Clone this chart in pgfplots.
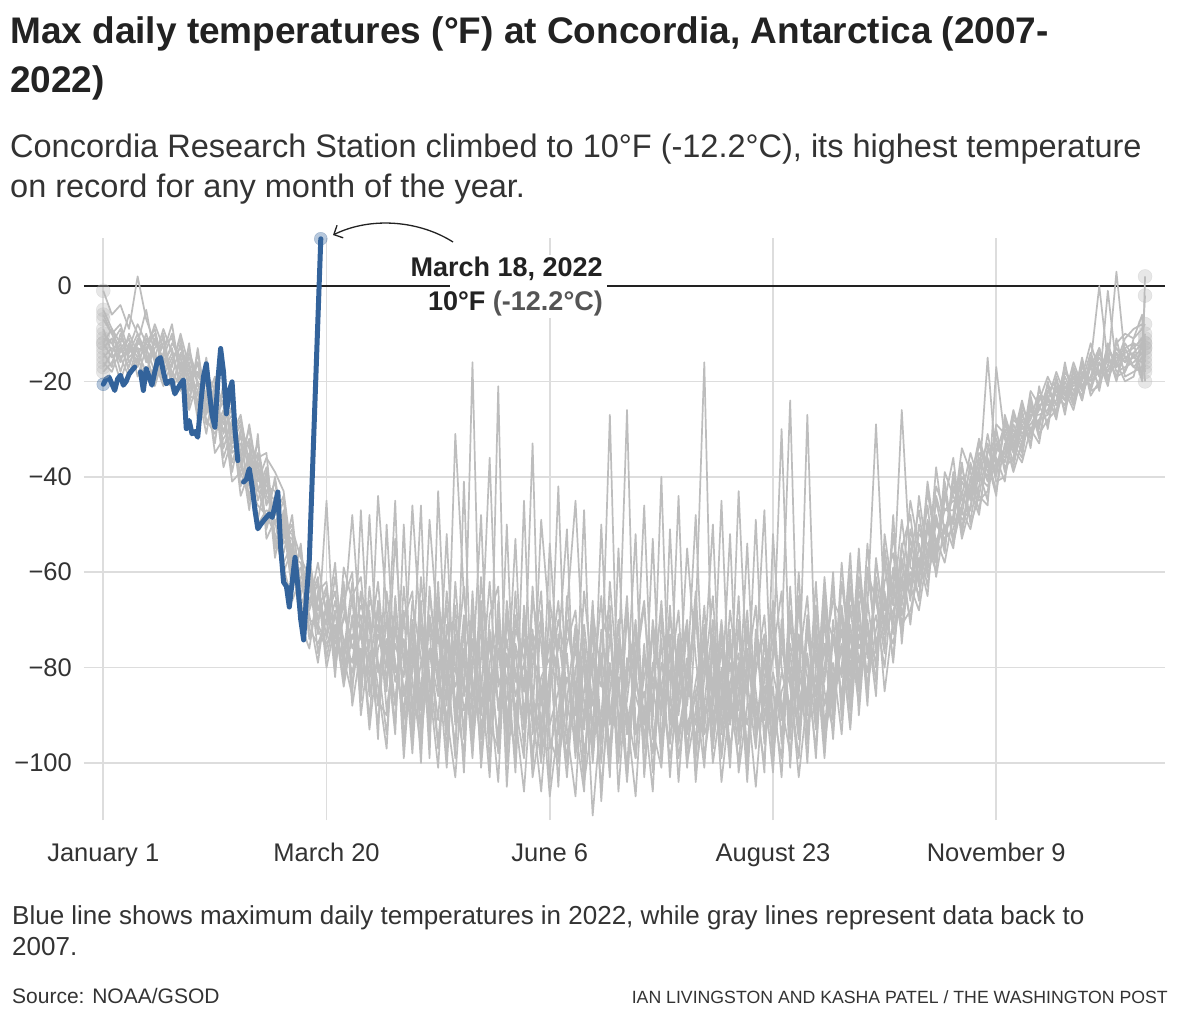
\documentclass[border=0pt]{standalone}
\usepackage{pgfplots}
\pgfplotsset{compat=1.18}
\usepackage{pgfplotstable}
\usepackage{fontspec}
\setmainfont{Liberation Sans}
\usetikzlibrary{arrows.meta}
\definecolor{gline}{HTML}{BDBDBD}
\definecolor{gdot}{HTML}{BBBBBB}
\definecolor{gridc}{HTML}{DDDDDD}
\definecolor{wpblue}{HTML}{33639B}
\definecolor{txt}{HTML}{222222}
\definecolor{txt2}{HTML}{333333}
\definecolor{anngray}{HTML}{555555}

\pgfplotstableread{
d y1 y2 y3 y4 y5 y6 y7 y8 y9 y10 y11 y12 y13 y14 y15
0 -1 -5 -6 -9 -11 -12 -13 -14 -15 -16 -17 -18 -12 -10 -7
3 -6 -9 -10 -14 -12 -15 -11 -17 -13 -18 -14 -16 -9 -12 -10
6 -4 -12 -8 -11 -16 -13 -18 -10 -15 -13 -20 -12 -14 -9 -15
9 -9 -6 -14 -13 -10 -17 -12 -15 -19 -11 -14 -18 -11 -16 -13
12 2 -10 -12 -16 -14 -11 -15 -13 -12 -17 -10 -15 -19 -13 -8
15 -7 -14 -5 -12 -18 -15 -10 -19 -13 -11 -16 -20 -13 -14 -12
18 -12 -8 -15 -9 -13 -20 -16 -11 -18 -14 -12 -17 -10 -21 -15
21 -15 -13 -9 -17 -11 -14 -21 -16 -10 -19 -13 -12 -18 -15 -20
24 -10 -19 -14 -12 -22 -8 -16 -13 -20 -15 -18 -11 -14 -17 -21
27 -18 -12 -20 -15 -14 -19 -11 -22 -16 -13 -21 -17 -15 -10 -19
30 -13 -22 -16 -24 -19 -15 -20 -12 -25 -18 -14 -23 -21 -17 -26
33 -21 -16 -25 -14 -23 -20 -18 -27 -13 -22 -19 -24 -16 -28 -20
36 -19 -27 -15 -24 -20 -29 -23 -18 -26 -31 -21 -17 -25 -22 -28
39 -26 -21 -30 -19 -28 -24 -33 -22 -27 -20 -35 -25 -29 -23 -31
42 -22 -31 -26 -34 -24 -29 -20 -36 -28 -25 -32 -23 -30 -38 -27
45 -33 -25 -37 -28 -31 -23 -35 -30 -26 -39 -29 -34 -27 -32 -41
48 -29 -38 -31 -42 -27 -36 -33 -40 -35 -30 -44 -32 -37 -28 -39
51 -40 -32 -45 -35 -38 -30 -42 -36 -47 -34 -39 -33 -44 -37 -29
54 -35 -43 -37 -49 -33 -41 -46 -39 -31 -45 -38 -50 -36 -42 -40
57 -46 -38 -51 -40 -44 -36 -48 -43 -53 -39 -42 -47 -35 -50 -45
60 -41 -50 -44 -55 -47 -39 -52 -45 -49 -57 -43 -48 -53 -40 -46
63 -53 -45 -58 -48 -51 -43 -56 -50 -60 -47 -54 -44 -59 -52 -49
66 -50 -59 -54 -62 -52 -57 -48 -64 -55 -61 -51 -58 -66 -53 -60
69 -63 -56 -67 -59 -70 -58 -65 -54 -69 -62 -57 -71 -61 -66 -55
72 -58 -68 -62 -74 -60 -66 -57 -72 -64 -69 -61 -76 -59 -67 -70
75 -70 -62 -73 -65 -77 -61 -68 -75 -63 -79 -67 -64 -72 -58 -71
78 -64 -74 -45 -71 -67 -78 -63 -70 -80 -66 -73 -62 -76 -69 -75
81 -73 -66 -79 -58 -75 -69 -82 -64 -71 -77 -61 -80 -68 -74 -72
84 -67 -77 -63 -81 -70 -74 -59 -78 -84 -66 -75 -69 -83 -62 -79
87 -76 -62 -84 -70 -48 -79 -66 -86 -73 -60 -81 -74 -69 -88 -65
90 -69 -80 -71 -87 -74 -64 -83 -47 -78 -90 -72 -67 -85 -76 -61
93 -82 -70 -91 -63 -77 -86 -48 -80 -68 -75 -93 -72 -66 -84 -79
96 -71 -88 -66 -79 -92 -73 -81 -67 -95 -62 -76 -84 -70 -44 -87
99 -85 -64 -78 -94 -69 -80 -74 -89 -50 -83 -71 -97 -76 -68 -90
102 -53 -79 -87 -71 -83 -45 -92 -75 -81 -68 -88 -65 -94 -79 -73
105 -80 -91 -68 -85 -74 -96 -63 -82 -77 -99 -70 -86 -50 -89 -75
108 -73 -66 -95 -77 -88 -70 -83 -46 -92 -75 -64 -81 -90 -72 -98
111 -89 -78 -61 -92 -66 -85 -97 -74 -68 -87 -95 -46 -79 -100 -71
114 -70 -93 -82 -65 -99 -76 -69 -90 -84 -49 -77 -94 -72 -63 -88
117 -84 -72 -96 -79 -43 -91 -80 -66 -101 -73 -86 -68 -97 -82 -62
120 -67 -88 -74 -101 -83 -64 -94 -78 -71 -92 -52 -85 -76 -90 -98
123 -92 -31 -87 -70 -96 -80 -62 -99 -84 -75 -90 -67 -81 -103 -73
126 -76 -65 -98 -85 -72 -93 -86 -41 -79 -102 -69 -95 -63 -77 -89
129 -99 -83 -70 -16 -94 -67 -78 -91 -88 -64 -97 -74 -86 -71 -81
132 -68 -95 -82 -90 -61 -101 -73 -85 -66 -93 -78 -99 -70 -88 -48
135 -87 -74 -103 -72 -85 -79 -96 -62 -100 -81 -36 -69 -92 -75 -94
138 -73 -98 -66 -88 -104 -70 -21 -89 -76 -95 -84 -63 -97 -82 -71
141 -95 -70 -91 -77 -68 -89 -100 -74 -93 -50 -79 -105 -66 -87 -83
144 -64 -86 -76 -102 -81 -97 -69 -90 -72 -96 -88 -75 -83 -53 -99
147 -90 -79 -97 -67 -92 -45 -85 -106 -78 -71 -99 -84 -74 -93 -69
150 -72 -101 -63 -86 -75 -94 -33 -80 -98 -89 -66 -91 -103 -77 -85
153 -97 -68 -88 -95 -70 -82 -99 -64 -86 -106 -75 -49 -91 -84 -100
156 -80 -92 -74 -54 -104 -78 -87 -97 -69 -83 -95 -71 -82 -107 -66
159 -66 -85 -105 -81 -73 -99 -42 -89 -94 -76 -100 -84 -70 -92 -79
162 -91 -77 -70 -100 -88 -65 -93 -75 -82 -51 -87 -103 -79 -68 -96
165 -75 -99 -84 -72 -95 -86 -107 -68 -90 -97 -71 -80 -93 -45 -83
168 -102 -71 -93 -87 -64 -104 -76 -92 -47 -85 -98 -74 -106 -81 -90
171 -70 -88 -66 -97 -82 -91 -111 -79 -100 -73 -86 -95 -68 -99 -77
174 -93 -80 -100 -50 -105 -74 -89 -84 -77 -108 -65 -90 -82 -72 -96
177 -79 -103 -73 -90 -85 -67 -96 -27 -92 -80 -101 -69 -97 -88 -62
180 -98 -55 -91 -82 -71 -100 -80 -93 -70 -86 -76 -106 -74 -95 -85
183 -68 -92 -84 -104 -89 -78 -26 -87 -103 -65 -94 -81 -90 -69 -101
186 -94 -81 -52 -77 -99 -86 -94 -70 -80 -99 -83 -71 -107 -85 -73
189 -82 -97 -103 -66 -75 -92 -85 -101 -67 -77 -89 -96 -78 -46 -91
192 -73 -70 -80 -95 -102 -53 -98 -79 -91 -84 -106 -72 -87 -93 -82
195 -100 -86 -69 -84 -79 -95 -74 -90 -40 -96 -71 -84 -66 -101 -88
198 -51 -96 -92 -73 -88 -81 -103 -67 -95 -75 -82 -99 -91 -76 -70
201 -89 -75 -81 -99 -44 -90 -78 -96 -84 -104 -68 -87 -73 -94 -80
204 -78 -101 -70 -86 -94 -72 -88 -83 -71 -80 -97 -55 -100 -82 -92
207 -96 -69 -99 -64 -83 -104 -67 -92 -102 -70 -85 -78 -89 -48 -86
210 -71 -90 -78 -93 -73 -82 -99 -74 -88 -16 -79 -94 -67 -91 -101
213 -87 -82 -95 -75 -97 -65 -85 -100 -70 -92 -50 -88 -96 -77 -73
216 -45 -98 -72 -90 -80 -93 -74 -87 -99 -76 -94 -70 -82 -104 -84
219 -92 -76 -86 -68 -101 -79 -91 -52 -83 -97 -72 -90 -75 -87 -98
222 -79 -89 -100 -83 -70 -94 -65 -96 -77 -85 -102 -43 -93 -72 -81
225 -97 -54 -80 -92 -86 -73 -101 -78 -104 -68 -88 -83 -71 -99 -76
228 -74 -93 -67 -78 -105 -88 -80 -90 -72 -95 -49 -97 -85 -81 -94
231 -88 -78 -96 -47 -82 -100 -73 -84 -94 -79 -91 -74 -102 -69 -87
234 -66 -99 -84 -95 -74 -69 -92 -102 -81 -89 -77 -98 -52 -93 -78
237 -91 -72 -103 -81 -88 -96 -76 -70 -90 -99 -64 -85 -80 -74 -30
240 -77 -95 -70 -88 -98 -63 -84 -92 -75 -68 -101 -80 -90 -24 -83
243 -94 -67 -89 -74 -79 -92 -99 -65 -86 -81 -73 -95 -60 -88 -103
246 -70 -88 -77 -100 -65 -84 -72 -96 -27 -90 -82 -69 -94 -78 -86
249 -86 -74 -93 -68 -92 -77 -89 -71 -83 -62 -97 -86 -73 -99 -67
252 -63 -94 -66 -83 -75 -99 -61 -88 -77 -92 -70 -80 -96 -68 -85
255 -84 -70 -88 -60 -95 -73 -85 -79 -66 -86 -91 -63 -82 -74 -93
258 -72 -87 -58 -91 -67 -82 -76 -94 -70 -80 -62 -89 -75 -86 -68
261 -89 -63 -80 -73 -85 -60 -92 -67 -87 -56 -78 -71 -93 -64 -82
264 -61 -82 -71 -88 -57 -79 -66 -83 -73 -90 -64 -85 -68 -76 -55
267 -78 -66 -85 -59 -76 -70 -88 -54 -81 -67 -73 -60 -84 -71 -86
270 -64 -80 -57 -75 -69 -83 -58 -77 -63 -29 -79 -66 -72 -86 -61
273 -75 -58 -72 -66 -80 -55 -70 -62 -85 -68 -57 -77 -64 -52 -73
276 -59 -71 -52 -78 -62 -67 -75 -56 -70 -60 -73 -48 -79 -65 -68
279 -67 -54 -69 -57 -73 -49 -64 -71 -55 -66 -61 -75 -58 -26 -63
282 -53 -66 -60 -71 -51 -63 -56 -68 -48 -62 -70 -55 -65 -59 -45
285 -62 -50 -65 -54 -59 -68 -47 -60 -63 -52 -57 -66 -44 -61 -55
288 -49 -59 -51 -63 -46 -56 -61 -43 -58 -54 -65 -50 -57 -41 -60
291 -56 -45 -58 -48 -61 -42 -53 -55 -50 -60 -44 -57 -49 -54 -38
294 -44 -54 -41 -56 -50 -47 -58 -45 -53 -39 -51 -43 -55 -47 -52
297 -50 -42 -53 -39 -55 -45 -48 -36 -51 -44 -49 -54 -40 -47 -43
300 -38 -48 -43 -51 -41 -47 -34 -52 -44 -49 -40 -46 -53 -37 -45
303 -45 -37 -49 -40 -44 -51 -39 -42 -35 -47 -43 -38 -46 -50 -41
306 -36 -44 -39 -47 -33 -42 -45 -37 -41 -35 -48 -40 -38 -44 -32
309 -41 -34 -45 -36 -39 -31 -43 -40 -15 -37 -35 -42 -33 -46 -38
312 -33 -39 -30 -43 -36 -40 -34 -29 -38 -44 -32 -37 -41 -17 -35
315 -37 -30 -39 -33 -41 -28 -36 -31 -35 -27 -38 -34 -40 -32 -29
318 -29 -35 -31 -38 -27 -34 -30 -37 -26 -33 -36 -28 -32 -39 -34
321 -33 -27 -35 -29 -31 -25 -34 -28 -32 -36 -26 -30 -24 -33 -37
324 -26 -31 -24 -33 -28 -30 -23 -32 -27 -25 -34 -29 -31 -22 -30
327 -29 -23 -30 -25 -22 -28 -31 -24 -27 -32 -21 -26 -28 -25 -33
330 -22 -27 -20 -29 -25 -24 -28 -19 -26 -23 -30 -21 -27 -24 -22
333 -25 -20 -27 -21 -24 -18 -26 -23 -21 -28 -19 -25 -22 -27 -20
336 -19 -24 -21 -26 -17 -23 -20 -25 -22 -18 -27 -21 -24 -16 -23
339 -23 -18 -25 -20 -22 -16 -24 -19 -26 -21 -17 -23 -20 -25 -18
342 -17 -22 -16 -23 -19 -21 -15 -24 -18 -20 -22 -16 -21 -19 -24
345 -20 -15 -22 -17 -12 -19 -23 -16 -21 -14 -19 -22 -17 -20 -15
348 -14 -19 -16 -21 -18 -13 -20 0 -16 -19 -15 -21 -13 -18 -22
351 -18 -13 -20 -15 -17 -19 -12 -16 -21 -14 -18 -1 -20 -15 -13
354 -13 -17 -14 -19 3 -16 -18 -15 -11 -20 -14 -17 -12 -19 -16
357 -16 -12 -18 -13 -15 -11 -17 -14 -19 -13 -16 -15 -10 -18 -20
360 -12 -15 -11 -17 -14 -9 -16 -13 -18 -12 -15 -17 -11 -14 -19
363 -19 -13 -9 -15 -12 -8 -14 -11 -17 -13 -16 -18 -6 -20 -12
364 2 -2 -8 -11 -13 -15 -17 -20 -12 -14 -10 -13 -16 -12 -18
}\graydata

\pgfplotstableread{
d t
0 -20.6
1 -19.5
2 -19.1
3 -20.5
4 -21.9
5 -19.5
6 -18.7
7 -20.8
8 -20.0
9 -18.5
10 -17.7
11 -17.0
12 nan
13 -18.0
14 -21.9
15 -17.3
16 -19.0
17 -20.8
18 -18.0
19 -15.5
20 -15.0
21 -18.0
22 -20.5
23 -20.0
24 -19.8
25 -22.6
26 -21.5
27 -20.5
28 -19.7
29 -29.9
30 -28.2
31 -31.0
32 -30.5
33 -31.7
34 -25.0
35 -19.0
36 -16.3
37 -22.0
38 -27.0
39 -29.6
40 -20.0
41 -13.1
42 -18.0
43 -26.8
44 -22.0
45 -20.1
46 -30.0
47 -36.6
48 nan
49 -41.1
50 -40.5
51 -38.3
52 -42.0
53 -47.0
54 -50.9
55 -50.0
56 -49.2
57 -48.5
58 -47.8
59 -48.5
60 -46.0
61 -43.2
62 -55.0
63 -62.1
64 -63.0
65 -67.3
66 -62.0
67 -56.9
68 -63.0
69 -70.0
70 -74.2
71 -65.0
72 -57.2
76 9.9
}\bluedata

\begin{document}
\begin{tikzpicture}[x=1pt,y=1pt]
\useasboundingbox (0,0) rectangle (1180,-1020);
\fill[white] (0,0) rectangle (1180,-1020);
\begin{axis}[
  at={(84pt,-820pt)}, anchor=south west,
  scale only axis, width=1081pt, height=582pt,
  xmin=-6.74, xmax=370.97, ymin=-111.95, ymax=10.06,
  axis line style={draw=none}, major tick length=0pt,
  xtick={0,78,156,234,312},
  xticklabels={January 1,March 20,June 6,August 23,November 9},
  ytick={-100,-80,-60,-40,-20,0},
  yticklabels={−100,−80,−60,−40,−20,0},
  grid=major, major grid style={gridc, line width=1.6pt},
  extra y ticks={0}, extra y tick labels={},
  extra y tick style={grid=major, major grid style={txt, line width=1.5pt}},
  xticklabel style={font=\fontsize{25.5}{30}\selectfont, text=txt2, anchor=base, yshift=-41pt, inner sep=0pt},
  yticklabel style={font=\fontsize{25.5}{30}\selectfont, text=txt2, anchor=east, xshift=-12pt, inner sep=0pt},
  clip=false,
]
\pgfplotsinvokeforeach{1,...,15}{
  \addplot[gline, line width=1.7pt, line join=round] table[x=d, y=y#1]{\graydata};
}
\addplot[only marks, mark=*, mark size=7pt, color=gdot, opacity=0.35]
  coordinates {(0,-1)(0,-5)(0,-6)(0,-9)(0,-11)(0,-12)(0,-13)(0,-14)(0,-15)(0,-16)(0,-17)(0,-18)(0,-12)(0,-10)(0,-7)};
\addplot[only marks, mark=*, mark size=7pt, color=gdot, opacity=0.35]
  coordinates {(364,2)(364,-2)(364,-8)(364,-11)(364,-13)(364,-15)(364,-17)(364,-20)(364,-12)(364,-14)(364,-10)(364,-13)(364,-16)(364,-12)(364,-18)};
\addplot[wpblue, line width=5pt, line join=round, line cap=round, unbounded coords=jump] table[x=d, y=t]{\bluedata};
\addplot[only marks, mark=*, mark size=6.5pt, color=wpblue, opacity=0.35]
  coordinates {(0,-20.6)(76,9.9)};
\end{axis}
% annotation
\fill[white] (450,-255) rectangle (607,-318);
\node[anchor=base east, inner sep=0pt, font=\bfseries\fontsize{27}{32}\selectfont, text=txt] at (603,-276) {March 18, 2022};
\node[anchor=base east, inner sep=0pt, font=\bfseries\fontsize{27}{32}\selectfont, text=txt] at (603,-310) {10°F {\color{anngray}(-12.2°C)}};
\draw[txt, line width=1.3pt, -{Straight Barb[length=7pt, width=14pt]}] (453,-242) .. controls (420,-221) and (372,-216) .. (333,-235);
% titles
\node[anchor=base west, inner sep=0pt, font=\bfseries\fontsize{37}{44}\selectfont, text=txt] at (10,-43) {Max daily temperatures (°F) at Concordia, Antarctica (2007-};
\node[anchor=base west, inner sep=0pt, font=\bfseries\fontsize{37}{44}\selectfont, text=txt] at (10,-92) {2022)};
\node[anchor=base west, inner sep=0pt, font=\fontsize{32.5}{40}\selectfont, text=txt2] at (10,-157) {Concordia Research Station climbed to 10°F (-12.2°C), its highest temperature};
\node[anchor=base west, inner sep=0pt, font=\fontsize{32.5}{40}\selectfont, text=txt2] at (10,-197) {on record for any month of the year.};
% notes
\node[anchor=base west, inner sep=0pt, font=\fontsize{26}{31}\selectfont, text=txt2] at (12,-924) {Blue line shows maximum daily temperatures in 2022, while gray lines represent data back to};
\node[anchor=base west, inner sep=0pt, font=\fontsize{26}{31}\selectfont, text=txt2] at (12,-955) {2007.};
\node[anchor=base west, inner sep=0pt, font=\fontsize{21}{25}\selectfont, text=txt2] at (12,-1003) {Source: NOAA/GSOD};
\node[anchor=base east, inner sep=0pt, font=\fontsize{17.7}{21}\selectfont, text=txt2] at (1168,-1003) {IAN LIVINGSTON AND KASHA PATEL / THE WASHINGTON POST};
\end{tikzpicture}
\end{document}
